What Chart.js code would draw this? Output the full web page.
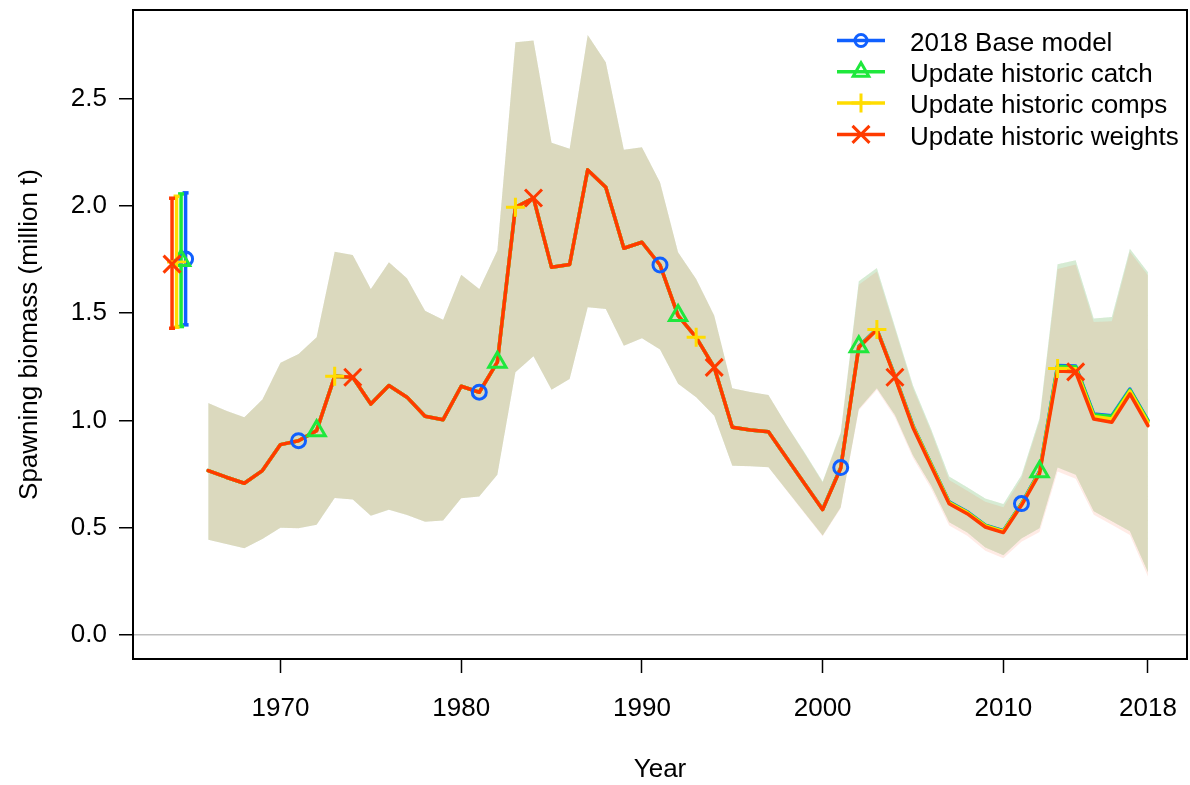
<!DOCTYPE html>
<html>
<head>
<meta charset="utf-8">
<script src="https://cdn.jsdelivr.net/npm/chart.js@4.4.1/dist/chart.umd.min.js"></script>
<style>
  html, body { margin: 0; padding: 0; background: #fff; }
  #wrap { width: 1190px; height: 785px; }
</style>
</head>
<body>
<div id="wrap"><canvas id="sbChart" width="1190" height="785"></canvas></div>
<script>
// years of the time series
const years = [
  1966, 1967, 1968, 1969, 1970, 1971, 1972, 1973, 1974, 1975,
  1976, 1977, 1978, 1979, 1980, 1981, 1982, 1983, 1984, 1985,
  1986, 1987, 1988, 1989, 1990, 1991, 1992, 1993, 1994, 1995,
  1996, 1997, 1998, 1999, 2000, 2001, 2002, 2003, 2004, 2005,
  2006, 2007, 2008, 2009, 2010, 2011, 2012, 2013, 2014, 2015,
  2016, 2017, 2018
];

// spawning biomass (million t), one array per model run
const baseSB = [
  0.766, 0.735, 0.707, 0.766, 0.887, 0.905, 0.952, 1.205, 1.201, 1.076,
  1.162, 1.108, 1.019, 1.003, 1.159, 1.131, 1.271, 1.993, 2.036, 1.713,
  1.726, 2.167, 2.086, 1.802, 1.830, 1.724, 1.488, 1.387, 1.247, 0.968,
  0.955, 0.947, 0.826, 0.705, 0.586, 0.780, 1.345, 1.425, 1.207, 0.975,
  0.797, 0.620, 0.574, 0.512, 0.486, 0.612, 0.762, 1.255, 1.253, 1.030,
  1.022, 1.146, 1.000
];
const catchSB = [
  0.766, 0.735, 0.707, 0.766, 0.887, 0.905, 0.952, 1.205, 1.201, 1.076,
  1.162, 1.108, 1.019, 1.003, 1.159, 1.131, 1.271, 1.993, 2.036, 1.713,
  1.726, 2.167, 2.086, 1.802, 1.830, 1.724, 1.488, 1.387, 1.247, 0.968,
  0.955, 0.947, 0.826, 0.705, 0.585, 0.779, 1.343, 1.424, 1.205, 0.973,
  0.795, 0.618, 0.572, 0.510, 0.484, 0.610, 0.760, 1.251, 1.250, 1.026,
  1.018, 1.142, 0.997
];
const compsSB = [
  0.766, 0.735, 0.707, 0.766, 0.887, 0.905, 0.952, 1.205, 1.201, 1.076,
  1.162, 1.108, 1.019, 1.003, 1.159, 1.131, 1.271, 1.993, 2.036, 1.713,
  1.726, 2.167, 2.086, 1.802, 1.830, 1.724, 1.488, 1.387, 1.247, 0.968,
  0.955, 0.947, 0.826, 0.705, 0.585, 0.778, 1.342, 1.423, 1.204, 0.971,
  0.793, 0.616, 0.570, 0.508, 0.482, 0.608, 0.757, 1.242, 1.240, 1.018,
  1.006, 1.136, 0.990
];
const weightsSB = [
  0.766, 0.735, 0.707, 0.766, 0.887, 0.905, 0.952, 1.205, 1.201, 1.076,
  1.162, 1.108, 1.019, 1.003, 1.159, 1.131, 1.271, 1.993, 2.036, 1.713,
  1.726, 2.167, 2.086, 1.802, 1.830, 1.724, 1.488, 1.387, 1.247, 0.968,
  0.955, 0.947, 0.826, 0.705, 0.584, 0.777, 1.340, 1.422, 1.201, 0.966,
  0.787, 0.611, 0.565, 0.503, 0.477, 0.604, 0.752, 1.230, 1.226, 1.006,
  0.991, 1.123, 0.975
];

// 95% intervals
const baseUpper = [
  1.081, 1.045, 1.014, 1.097, 1.268, 1.309, 1.387, 1.786, 1.771, 1.612,
  1.737, 1.662, 1.511, 1.469, 1.678, 1.612, 1.791, 2.762, 2.770, 2.293,
  2.265, 2.796, 2.669, 2.261, 2.272, 2.109, 1.783, 1.659, 1.488, 1.150,
  1.132, 1.118, 0.980, 0.850, 0.715, 0.944, 1.648, 1.710, 1.436, 1.162,
  0.960, 0.738, 0.688, 0.636, 0.610, 0.744, 1.010, 1.727, 1.746, 1.474,
  1.481, 1.800, 1.690
];
const baseLower = [
  0.444, 0.424, 0.404, 0.447, 0.500, 0.497, 0.513, 0.638, 0.631, 0.556,
  0.584, 0.559, 0.528, 0.533, 0.637, 0.645, 0.746, 1.224, 1.299, 1.143,
  1.193, 1.527, 1.519, 1.348, 1.383, 1.330, 1.170, 1.108, 1.022, 0.789,
  0.786, 0.781, 0.675, 0.569, 0.463, 0.595, 1.053, 1.150, 1.025, 0.836,
  0.696, 0.525, 0.478, 0.408, 0.372, 0.449, 0.497, 0.780, 0.746, 0.576,
  0.530, 0.483, 0.292
];
const weightsUpper = [
  1.081, 1.045, 1.014, 1.097, 1.268, 1.309, 1.387, 1.786, 1.771, 1.612,
  1.737, 1.662, 1.511, 1.469, 1.678, 1.612, 1.791, 2.762, 2.770, 2.293,
  2.265, 2.796, 2.669, 2.261, 2.272, 2.109, 1.783, 1.659, 1.488, 1.150,
  1.132, 1.118, 0.978, 0.846, 0.710, 0.938, 1.632, 1.694, 1.424, 1.150,
  0.948, 0.722, 0.672, 0.621, 0.595, 0.730, 0.996, 1.705, 1.726, 1.458,
  1.462, 1.786, 1.676
];
const weightsLower = [
  0.444, 0.424, 0.404, 0.447, 0.500, 0.497, 0.513, 0.638, 0.631, 0.556,
  0.584, 0.559, 0.528, 0.533, 0.637, 0.645, 0.746, 1.224, 1.299, 1.143,
  1.193, 1.527, 1.519, 1.348, 1.383, 1.330, 1.170, 1.108, 1.022, 0.789,
  0.786, 0.781, 0.673, 0.566, 0.460, 0.590, 1.047, 1.143, 1.015, 0.824,
  0.683, 0.510, 0.462, 0.392, 0.357, 0.434, 0.480, 0.762, 0.728, 0.560,
  0.513, 0.466, 0.272
];

// unfished equilibrium: plotted just left of the series
const equilX = [1964.75, 1964.5, 1964.25, 1964];
const equilSB = [1.752, 1.745, 1.738, 1.728];
const equilLow = [1.445, 1.437, 1.434, 1.429];
const equilHigh = [2.060, 2.055, 2.044, 2.035];

// years where each run shows its symbol
const baseMarks = [1971, 1981, 1991, 2001, 2011];
const catchMarks = [1972, 1982, 1992, 2002, 2012];
const compsMarks = [1973, 1983, 1993, 2003, 2013];
const weightsMarks = [1974, 1984, 1994, 2004, 2014];

const xTicks = [1970, 1980, 1990, 2000, 2010, 2018];
const yTicks = [0, 0.5, 1.0, 1.5, 2.0, 2.5];

const FONT = '"Liberation Sans", Arial, Helvetica, sans-serif';

const models = [
  { label: "2018 Base model", sb: baseSB, up: baseUpper, lo: baseLower, marks: baseMarks,
    color: "#1060FF", rgb: "16,96,255", style: "circle", r: 7, legR: 6 },
  { label: "Update historic catch", sb: catchSB, up: baseUpper, lo: baseLower, marks: catchMarks,
    color: "#1EE83C", rgb: "30,232,60", style: "triangle", r: 10, legR: 9 },
  { label: "Update historic comps", sb: compsSB, up: baseUpper, lo: baseLower, marks: compsMarks,
    color: "#FFDC00", rgb: "255,220,0", style: "cross", r: 9.5, legR: 9.5 },
  { label: "Update historic weights", sb: weightsSB, up: weightsUpper, lo: weightsLower, marks: weightsMarks,
    color: "#FF3A00", rgb: "255,58,0", style: "crossRot", r: 12, legR: 12 },
];

function toPoints(vals) {
  return years.map((yr, i) => ({ x: yr, y: vals[i] }));
}

const datasets = [];

// shaded intervals (bottom layer)
models.forEach((m, i) => {
  datasets.push({
    label: m.label + " upper",
    data: toPoints(m.up),
    borderWidth: 0,
    pointRadius: 0,
    backgroundColor: "rgba(" + m.rgb + ",0.1)",
    fill: "+1",
    order: 40 - i,
  });
  datasets.push({
    label: m.label + " lower",
    data: toPoints(m.lo),
    borderWidth: 0,
    pointRadius: 0,
    fill: false,
    order: 40 - i,
  });
});

// lines
models.forEach((m, i) => {
  datasets.push({
    label: m.label,
    data: toPoints(m.sb),
    borderColor: m.color,
    borderWidth: 3.5,
    borderJoinStyle: "round",
    borderCapStyle: "round",
    pointRadius: 0,
    fill: false,
    order: 20 - i,
  });
});

// symbols on top of all lines
models.forEach((m, i) => {
  datasets.push({
    label: m.label + " symbols",
    data: toPoints(m.sb).filter((p) => m.marks.includes(p.x)),
    showLine: false,
    pointStyle: m.style,
    pointRadius: m.r,
    pointBorderWidth: 3,
    pointBorderColor: m.color,
    pointBackgroundColor: "rgba(0,0,0,0)",
    order: 5 - i,
  });
});

// equilibrium estimate with interval bar
models.forEach((m, i) => {
  datasets.push({
    label: m.label + " equil bar",
    data: [{ x: equilX[i], y: equilLow[i] }, { x: equilX[i], y: equilHigh[i] }],
    borderColor: m.color,
    borderWidth: 3.5,
    pointStyle: "line",
    pointRadius: 3,
    pointBorderWidth: 3.5,
    pointBorderColor: m.color,
    fill: false,
    order: 15 - i,
  });
  datasets.push({
    label: m.label + " equil",
    data: [{ x: equilX[i], y: equilSB[i] }],
    showLine: false,
    pointStyle: m.style,
    pointRadius: m.r,
    pointBorderWidth: 3,
    pointBorderColor: m.color,
    pointBackgroundColor: "rgba(0,0,0,0)",
    order: 5 - i,
  });
});

// plot box drawn on top like R's box()
const boxPlugin = {
  id: "plotBox",
  afterDatasetsDraw(chart) {
    const { ctx, chartArea: a } = chart;
    ctx.save();
    ctx.strokeStyle = "#000";
    ctx.lineWidth = 2;
    ctx.strokeRect(a.left, a.top, a.right - a.left, a.bottom - a.top);
    ctx.restore();
  },
};

// legend in the upper right corner of the plot, line + symbol + text
const cornerLegend = {
  id: "cornerLegend",
  afterDraw(chart) {
    const { ctx, chartArea: a } = chart;
    const x0 = a.right - 350;
    const y0 = a.top + 30.5;
    const rowH = 31.3;
    ctx.save();
    ctx.font = "26px " + FONT;
    ctx.textBaseline = "middle";
    ctx.textAlign = "left";
    models.forEach((m, i) => {
      const y = y0 + i * rowH;
      ctx.strokeStyle = m.color;
      ctx.lineWidth = 3.5;
      ctx.beginPath();
      ctx.moveTo(x0, y);
      ctx.lineTo(x0 + 48, y);
      ctx.stroke();
      ctx.lineWidth = 3;
      ctx.fillStyle = "rgba(0,0,0,0)";
      Chart.helpers.drawPoint(ctx, { pointStyle: m.style, radius: m.legR, borderWidth: 3, rotation: 0 }, x0 + 24, y);
      ctx.fillStyle = "#000";
      ctx.fillText(m.label, x0 + 73, y + 3);
    });
    ctx.restore();
  },
};

new Chart(document.getElementById("sbChart"), {
  type: "line",
  data: { datasets },
  plugins: [boxPlugin, cornerLegend],
  options: {
    responsive: false,
    animation: false,
    events: [],
    layout: { autoPadding: false, padding: { left: 0, right: 3, top: 10, bottom: 0 } },
    plugins: {
      legend: { display: false },
      tooltip: { enabled: false },
    },
    elements: { line: { tension: 0 } },
    scales: {
      x: {
        type: "linear",
        min: 1961.84,
        max: 2020.16,
        afterBuildTicks: (s) => { s.ticks = xTicks.map((v) => ({ value: v })); },
        afterFit: (s) => { s.height = 126; s.paddingLeft = 0; s.paddingRight = 0; },
        border: { display: false },
        grid: { drawOnChartArea: false, tickLength: 14, tickColor: "#000", tickWidth: 1.5 },
        ticks: {
          color: "#000",
          padding: 20,
          maxRotation: 0,
          autoSkip: false,
          font: { family: FONT, size: 26 },
          callback: (v) => String(v),
        },
        title: {
          display: true,
          text: "Year",
          color: "#000",
          font: { family: FONT, size: 26 },
          padding: { top: 0, bottom: 0 },
        },
      },
      y: {
        min: -0.112,
        max: 2.912,
        afterBuildTicks: (s) => { s.ticks = yTicks.map((v) => ({ value: v })); },
        afterFit: (s) => { s.width = 133; s.paddingTop = 0; s.paddingBottom = 0; },
        border: { display: false },
        grid: {
          drawOnChartArea: true,
          color: (c) => (c.tick && c.tick.value === 0 ? "#bdbdbd" : "rgba(0,0,0,0)"),
          lineWidth: 1.5,
          tickLength: 14,
          tickColor: "#000",
          tickWidth: 1.5,
        },
        ticks: {
          color: "#000",
          padding: 12,
          font: { family: FONT, size: 26 },
          callback: (v) => v.toFixed(1),
        },
        title: {
          display: true,
          text: "Spawning biomass (million t)",
          color: "#000",
          font: { family: FONT, size: 26 },
          padding: { top: 14, bottom: 0 },
        },
      },
    },
  },
});
</script>
</body>
</html>
